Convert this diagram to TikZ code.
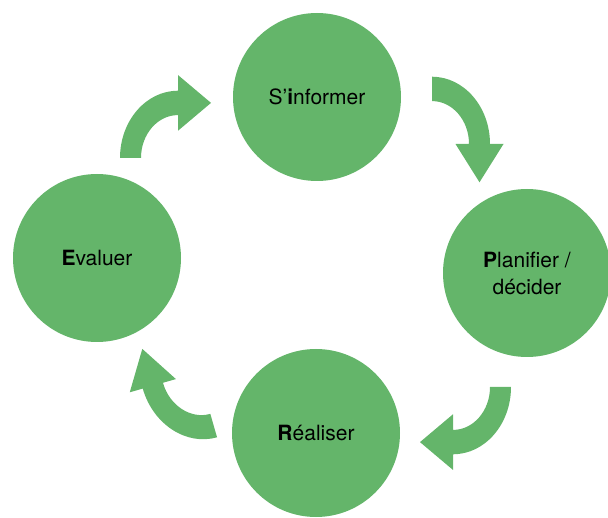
\documentclass[tikz,border=0pt]{standalone}
\usepackage{fontspec}
\setmainfont{TeX Gyre Heros}
\usepackage{tikz}
\usepackage{xcolor}

\definecolor{phasegreen}{RGB}{100,181,106}

\begin{document}
\begin{tikzpicture}[x=1pt,y=1pt,
  phase/.style={circle, fill=phasegreen, minimum size=168pt, inner sep=0pt,
    align=center, font=\fontsize{21}{27}\selectfont},
  turn/.style={fill=phasegreen, draw=none}]

\useasboundingbox (0,0) rectangle (608,517);

% nodes
{
\node[phase] (inform) at (317,420) {S’\textbf{i}nformer};
\node[phase] (plan) at (527,244) {\textbf{P}lanifier /\\ décider};
\node[phase] (realise) at (316,84) {\textbf{R}éaliser};
\node[phase] (evaluate) at (97,259) {\textbf{E}valuer};
}

% arrows
\begin{scope}[shift={(178,359)}, yscale=1.16]
\fill[turn] (-58,0) arc (180:90:58) -- (0,71.5) -- (33,47.5) -- (0,23.5)
  -- (0,37) arc (90:180:37) -- cycle;
\end{scope}

\begin{scope}[shift={(432,373)}, yscale=1.16]
\fill[turn] (0,58) arc (90:0:58) -- (71.5,0) -- (47.5,-33) -- (23.5,0)
  -- (37,0) arc (0:90:37) -- cycle;
\end{scope}

\begin{scope}[shift={(453,130)}, yscale=1.16]
\fill[turn] (58,0) arc (0:-90:58) -- (0,-71.5) -- (-33,-47.5) -- (0,-23.5)
  -- (0,-37) arc (-90:0:37) -- cycle;
\end{scope}

\begin{scope}[shift={(198.5,144.4)}, rotate=16, yscale=1.16]
\fill[turn] (0,-58) arc (-90:-180:58) -- (-71.5,0) -- (-47.5,33) -- (-23.5,0)
  -- (-37,0) arc (180:270:37) -- cycle;
\end{scope}

\end{tikzpicture}
\end{document}
